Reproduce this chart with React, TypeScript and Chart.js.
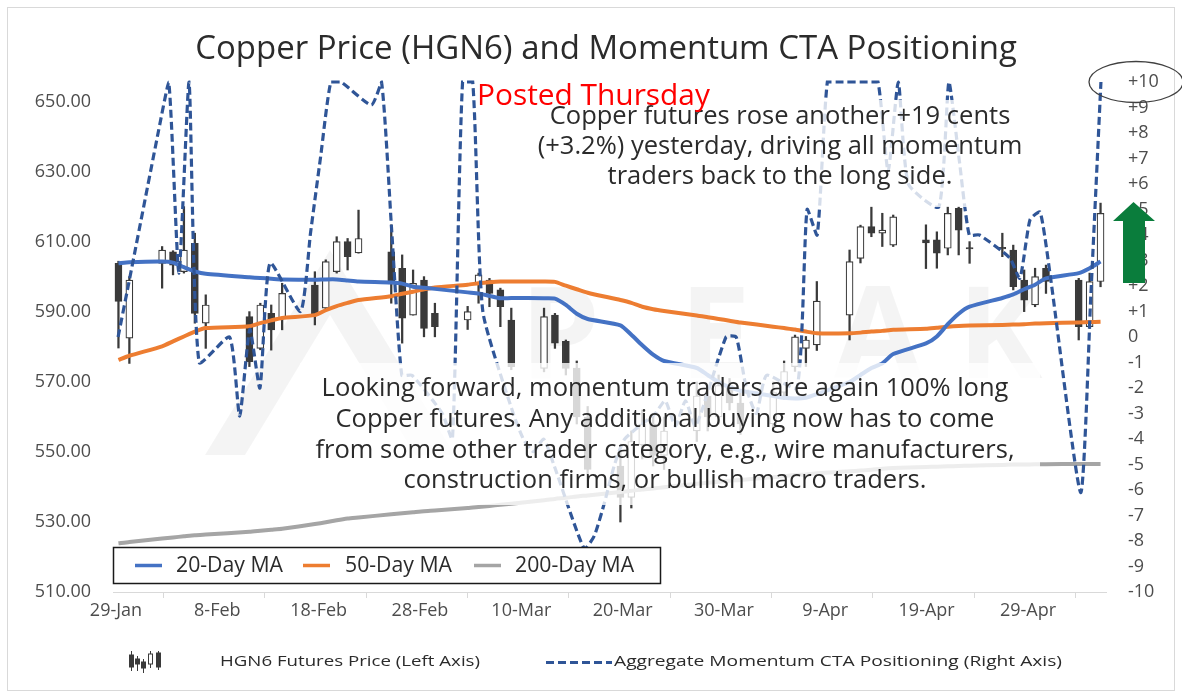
import React, { useEffect, useRef } from 'react';
import { Chart, registerables } from 'chart.js';

Chart.register(...registerables);

// ---------------- DATA ----------------
const YEAR = 2026;
const BASE_DATE = '01-29';

// Candlestick series (HGN6 futures, left axis)
const CANDLE_DATES = [
  '01-29', '01-30',
  '02-02', '02-03', '02-04', '02-05', '02-06',
  '02-10', '02-11', '02-12', '02-13',
  '02-16', '02-17', '02-18', '02-19', '02-20',
  '02-23', '02-24', '02-25', '02-26', '02-27',
  '03-02', '03-03', '03-04', '03-05', '03-06',
  '03-09', '03-10', '03-11', '03-12', '03-13',
  '03-16', '03-17', '03-18', '03-19', '03-20',
  '03-23', '03-24', '03-25', '03-26', '03-27',
  '03-30', '03-31', '04-01', '04-02', '04-03',
  '04-06', '04-07', '04-08', '04-09', '04-10',
  '04-13', '04-14', '04-15', '04-16', '04-17',
  '04-20', '04-21', '04-22', '04-23', '04-24',
  '04-27', '04-28', '04-29',
];
const OPEN = [
  603.9, 582.5,
  603.9, 607.2, 601.5, 609.6, 586.8,
  588.7, 579.6, 589.6, 588.2,
  597.7, 591.1, 601.5, 610.1, 606.9,
  607.2, 602.5, 589.1, 599.1, 589.6,
  587.7, 598.2, 599.1, 596.3, 587.7,
  573.9, 589.1, 581.6, 574.0, 560.0,
  546.0, 537.0, 552.0, 558.0, 549.0,
  556.0, 566.0, 560.0, 569.0, 564.0,
  558.0, 567.0, 574.4, 579.6, 580.6,
  589.1, 605.3, 614.4, 612.5, 609.1,
  610.6, 610.6, 608.2, 619.6, 608.4,
  608.5, 607.7, 599.1, 592.0, 602.5,
  599.1, 585.8, 598.7,
];
const HIGH = [
  604.5, 600.1,
  608.7, 607.5, 620.1, 612.5, 594.9,
  590.1, 592.5, 592.0, 598.2,
  601.5, 604.9, 611.5, 611.0, 619.1,
  614.9, 606.3, 602.0, 600.1, 592.5,
  591.6, 601.1, 599.6, 596.8, 591.1,
  591.1, 589.6, 582.0, 576.0, 563.0,
  550.0, 556.0, 562.0, 561.0, 560.0,
  570.0, 569.0, 572.0, 571.0, 567.0,
  570.0, 576.0, 583.4, 583.0, 598.7,
  607.7, 614.8, 620.1, 618.2, 617.7,
  614.9, 612.9, 620.1, 620.1, 610.1,
  612.5, 609.1, 602.0, 602.5, 603.4,
  599.6, 601.1, 621.1,
];
const LOW = [
  579.7, 575.3,
  596.8, 600.6, 601.1, 586.8, 579.6,
  574.4, 579.2, 579.1, 584.9,
  586.3, 590.6, 601.1, 602.0, 606.8,
  592.5, 581.1, 589.1, 582.9, 582.9,
  585.0, 592.5, 591.5, 585.8, 573.5,
  572.9, 579.6, 572.0, 558.0, 540.0,
  530.0, 534.0, 548.0, 546.0, 545.0,
  553.0, 556.0, 558.0, 562.0, 555.0,
  556.0, 565.0, 573.0, 574.4, 579.0,
  582.0, 604.0, 611.5, 608.7, 608.7,
  602.4, 602.5, 606.3, 606.3, 603.9,
  605.8, 596.3, 590.1, 591.5, 595.3,
  582.0, 585.3, 597.2,
];
const CLOSE = [
  593.0, 599.1,
  607.7, 603.4, 607.7, 589.6, 592.0,
  575.8, 592.0, 584.9, 595.3,
  589.1, 604.4, 610.1, 605.8, 611.0,
  598.0, 588.2, 598.2, 585.3, 585.8,
  590.1, 600.6, 595.3, 591.5, 574.4,
  588.7, 581.1, 573.9, 560.0, 545.0,
  537.0, 553.0, 558.0, 549.0, 556.0,
  566.0, 560.0, 569.0, 564.0, 558.0,
  567.0, 573.0, 582.9, 582.0, 593.1,
  604.4, 614.4, 612.5, 613.4, 617.2,
  609.7, 606.8, 618.2, 613.4, 608.0,
  608.0, 597.2, 593.4, 600.1, 598.7,
  585.8, 598.7, 618.2,
];

// Moving averages (same dates as the candles)
const MA20 = [
  603.9, 604.2,
  604.4, 604.1, 602.8, 601.6, 600.9,
  599.9, 599.7, 599.5, 599.3,
  599.2, 599.3, 599.3, 599.0, 598.7,
  598.4, 598.1, 597.2, 596.9, 596.6,
  595.6, 595.3, 594.6, 593.9, 594.0,
  593.9, 593.8, 592.0, 589.5, 588.0,
  586.2, 583.5, 580.5, 577.8, 576.0,
  574.0, 572.0, 570.0, 568.5, 567.5,
  566.0, 565.5, 565.3, 565.5, 566.5,
  570.0, 572.0, 574.0, 575.3, 578.0,
  581.0, 583.0, 586.5, 589.5, 591.5,
  594.0, 595.0, 596.5, 597.8, 599.6,
  601.1, 602.5, 604.4,
];
const MA50 = [
  576.3, 577.5,
  580.2, 581.6, 583.0, 584.4, 585.4,
  585.9, 586.8, 587.6, 588.3,
  589.1, 590.5, 591.7, 592.6, 593.4,
  594.5, 595.2, 595.8, 596.5, 597.0,
  597.8, 598.2, 598.5, 598.7, 598.7,
  598.7, 598.6, 597.5, 596.5, 595.5,
  593.4, 592.6, 591.5, 590.8, 590.3,
  589.0, 588.5, 588.0, 587.5, 587.0,
  585.8, 585.4, 585.0, 584.4, 583.9,
  583.9, 584.1, 584.4, 584.6, 584.9,
  585.2, 585.5, 585.8, 586.0, 586.1,
  586.3, 586.4, 586.5, 586.7, 586.8,
  587.0, 587.1, 587.2,
];
const MA200 = [
  523.9, 524.3,
  525.3, 525.6, 525.9, 526.2, 526.4,
  527.2, 527.5, 527.8, 528.1,
  529.4, 529.9, 530.5, 531.0, 531.3,
  532.2, 532.5, 532.8, 533.1, 533.3,
  534.0, 534.3, 534.6, 534.9, 535.2,
  536.2, 536.6, 536.9, 537.3, 537.6,
  538.6, 538.9, 539.3, 539.6, 539.9,
  540.9, 541.2, 541.5, 541.8, 542.0,
  542.8, 543.1, 543.4, 543.6, 543.9,
  544.5, 544.7, 544.9, 545.2, 545.4,
  545.7, 545.8, 545.9, 546.0, 546.1,
  546.3, 546.4, 546.4, 546.5, 546.5,
  546.6, 546.6, 546.6,
];

// Aggregate momentum CTA positioning (right axis), plotted on the labelled date axis
const CTA_DATES = [
  '01-29', '01-30',
  '02-02', '02-03', '02-04', '02-05', '02-06',
  '02-09', '02-10', '02-11', '02-12', '02-13',
  '02-16', '02-17', '02-18', '02-19', '02-20',
  '02-23', '02-24', '02-25', '02-26', '02-27',
  '03-02', '03-03', '03-04', '03-05', '03-06',
  '03-09', '03-10', '03-11', '03-12', '03-13',
  '03-16', '03-17', '03-18', '03-19', '03-20',
  '03-23', '03-24', '03-25', '03-26', '03-27',
  '03-30', '03-31', '04-01', '04-02', '04-03',
  '04-06', '04-07', '04-08', '04-09', '04-10',
  '04-13', '04-14', '04-15', '04-16', '04-17',
  '04-20', '04-21', '04-22', '04-23', '04-24',
  '04-27', '04-28', '04-29', '04-30', '05-01',
  '05-04', '05-05', '05-06',
];
const CTA = [
  0, 2.0,
  8.1, 10, 2.5, 10, -1.0,
  0, -3.1, 0.3, -2.0, 2.9,
  1.0, 4.1, 7.1, 10, 10,
  9.1, 10, 4.2, -1.5, -1.5,
  -3.0, -4.0, 10, 10, 1.0,
  -3.0, -4.0, -4.5, -4.0, -5.0,
  -8.3, -7.8, -6.5, -5.0, -4.0,
  -3.0, -2.5, -3.5, -2.5, -3.5,
  0, 0, -2.0, -3.0, -1.5,
  -2.0, 5.0, 4.0, 10, 10,
  10, 10, 6.5, 10, 6.0,
  5.1, 10, 7.0, 4.0, 4.0,
  3.1, 2.3, 4.6, 4.9, 2.4,
  -6.1, 1.6, 10,
];

const X_TICK_DATES = ['01-29', '02-08', '02-18', '02-28', '03-10', '03-20', '03-30', '04-09', '04-19', '04-29'];
const X_TICK_LABELS = ['29-Jan', '8-Feb', '18-Feb', '28-Feb', '10-Mar', '20-Mar', '30-Mar', '9-Apr', '19-Apr', '29-Apr'];
const LEFT_TICKS = [510, 530, 550, 570, 590, 610, 630, 650];
const RIGHT_TICKS = [-10, -9, -8, -7, -6, -5, -4, -3, -2, -1, 0, 1, 2, 3, 4, 5, 6, 7, 8, 9, 10];

const TITLE = 'Copper Price (HGN6) and Momentum CTA Positioning';
const POSTED = 'Posted Thursday';
const WATERMARK = ['P', 'E', 'A', 'K'];
const NOTE_TOP = [
  'Copper futures rose another +19 cents',
  '(+3.2%) yesterday, driving all momentum',
  'traders back to the long side.',
];
const NOTE_BOTTOM = [
  'Looking forward, momentum traders are again 100% long',
  'Copper futures. Any additional buying now has to come',
  'from some other trader category, e.g., wire manufacturers,',
  'construction firms, or bullish macro traders.',
];
const MA_LEGEND = ['20-Day MA', '50-Day MA', '200-Day MA'];
const BOTTOM_LEGEND = ['HGN6 Futures Price (Left Axis)', 'Aggregate Momentum CTA Positioning (Right Axis)'];

// ---------------- HELPERS ----------------
const FONT = "'Open Sans', 'DejaVu Sans', sans-serif";
const C_BLUE = '#4472C4';
const C_ORANGE = '#ED7D31';
const C_GRAY = '#A5A5A5';
const C_DASH = '#2F5597';
const C_CANDLE = '#3a3a3a';
const C_TEXT = '#2b2b2b';
const C_AXIS = '#4d4d4d';

function dayOffset(md: string): number {
  const [m, d] = md.split('-').map(Number);
  const [bm, bd] = BASE_DATE.split('-').map(Number);
  return Math.round((Date.UTC(YEAR, m - 1, d) - Date.UTC(YEAR, bm - 1, bd)) / 86400000);
}

function fitSize(ctx: CanvasRenderingContext2D, text: string, width: number, weight = '') {
  ctx.font = `${weight} 100px ${FONT}`;
  return (100 * width) / ctx.measureText(text).width;
}

const decorPlugin = {
  id: 'decor',
  beforeDatasetsDraw(chart: any) {
    const ctx: CanvasRenderingContext2D = chart.ctx;
    ctx.save();
    // faint watermark
    ctx.fillStyle = 'rgba(0,0,0,0.045)';
    ctx.textAlign = 'center';
    ctx.textBaseline = 'alphabetic';
    ctx.font = `bold 128px ${FONT}`;
    const xs = [560, 715, 878, 1000];
    WATERMARK.forEach((l, i) => ctx.fillText(l, xs[i], 378));
    // faint mountain logo
    ctx.beginPath();
    ctx.moveTo(205, 455);
    ctx.lineTo(330, 250);
    ctx.lineTo(455, 455);
    ctx.lineTo(415, 455);
    ctx.lineTo(330, 315);
    ctx.lineTo(245, 455);
    ctx.closePath();
    ctx.fill();
    ctx.restore();
  },
  afterDatasetsDraw(chart: any) {
    const ctx: CanvasRenderingContext2D = chart.ctx;
    ctx.save();
    // translucent text boxes
    ctx.fillStyle = 'rgba(255,255,255,0.8)';
    ctx.fillRect(540, 100, 495, 107);
    ctx.fillRect(300, 363, 740, 142);

    ctx.fillStyle = C_TEXT;
    ctx.textAlign = 'center';
    ctx.textBaseline = 'middle';
    let s = fitSize(ctx, NOTE_TOP[0], 461);
    ctx.font = `${s}px ${FONT}`;
    NOTE_TOP.forEach((t, i) => ctx.fillText(t, 780, 117 + i * 30));
    s = fitSize(ctx, NOTE_BOTTOM[0], 687);
    ctx.font = `${s}px ${FONT}`;
    NOTE_BOTTOM.forEach((t, i) => ctx.fillText(t, 665, 389 + i * 30.7));

    // moving-average legend box
    ctx.fillStyle = '#ffffff';
    ctx.fillRect(113, 547, 547, 36);
    ctx.strokeStyle = '#1a1a1a';
    ctx.lineWidth = 1.5;
    ctx.strokeRect(113.5, 547.5, 547, 36);
    const items = [
      { c: C_BLUE, x: 135, t: 176 },
      { c: C_ORANGE, x: 303, t: 345 },
      { c: C_GRAY, x: 474, t: 515 },
    ];
    s = fitSize(ctx, MA_LEGEND[0], 107);
    ctx.font = `${s}px ${FONT}`;
    ctx.textAlign = 'left';
    items.forEach((it, i) => {
      ctx.strokeStyle = it.c;
      ctx.lineWidth = 3.5;
      ctx.beginPath();
      ctx.moveTo(it.x, 565.5);
      ctx.lineTo(it.x + 27, 565.5);
      ctx.stroke();
      ctx.fillStyle = C_TEXT;
      ctx.fillText(MA_LEGEND[i], it.t, 566);
    });
    ctx.restore();
  },
  afterDraw(chart: any) {
    const ctx: CanvasRenderingContext2D = chart.ctx;
    ctx.save();
    // frame
    ctx.strokeStyle = '#d9d9d9';
    ctx.lineWidth = 1;
    ctx.strokeRect(7.5, 7.5, 1167, 683);

    // title
    ctx.textAlign = 'center';
    ctx.textBaseline = 'middle';
    ctx.fillStyle = C_TEXT;
    let s = fitSize(ctx, TITLE, 822);
    ctx.font = `${s}px ${FONT}`;
    ctx.fillText(TITLE, 606, 50);

    // posted
    ctx.textAlign = 'left';
    ctx.fillStyle = '#FF0000';
    s = fitSize(ctx, POSTED, 233);
    ctx.font = `${s}px ${FONT}`;
    ctx.fillText(POSTED, 477, 96);

    // green arrow
    ctx.fillStyle = '#0A7D3C';
    ctx.beginPath();
    ctx.moveTo(1133.5, 202);
    ctx.lineTo(1155, 221);
    ctx.lineTo(1145, 221);
    ctx.lineTo(1145, 283);
    ctx.lineTo(1123, 283);
    ctx.lineTo(1123, 221);
    ctx.lineTo(1113, 221);
    ctx.closePath();
    ctx.fill();

    // ellipse around +10
    ctx.strokeStyle = '#404040';
    ctx.lineWidth = 1.3;
    ctx.beginPath();
    ctx.ellipse(1136, 82, 47, 20.5, 0, 0, Math.PI * 2);
    ctx.stroke();

    // bottom legend: candle icon
    const mini = [
      { x: 131, h: 651, l: 671, o: 655, c: 667, up: false },
      { x: 137, h: 656, l: 671, o: 659, c: 664, up: false },
      { x: 143, h: 659, l: 673, o: 662, c: 668, up: false },
      { x: 150, h: 651, l: 668, o: 664, c: 654, up: true },
      { x: 158, h: 651, l: 670, o: 653, c: 667, up: false },
    ];
    mini.forEach((m) => {
      ctx.strokeStyle = C_CANDLE;
      ctx.lineWidth = 1;
      ctx.beginPath();
      ctx.moveTo(m.x + 0.5, m.h);
      ctx.lineTo(m.x + 0.5, m.l);
      ctx.stroke();
      const top = Math.min(m.o, m.c);
      const hgt = Math.abs(m.o - m.c);
      ctx.fillStyle = m.up ? '#ffffff' : C_CANDLE;
      ctx.fillRect(m.x - 1.5, top, 4, hgt);
      ctx.strokeRect(m.x - 1.5, top, 4, hgt);
    });

    // bottom legend texts (condensed)
    ctx.fillStyle = C_TEXT;
    ctx.textBaseline = 'middle';
    ctx.textAlign = 'left';
    ctx.font = `15px ${FONT}`;
    const drawCondensed = (t: string, x: number, w: number) => {
      const mw = ctx.measureText(t).width;
      ctx.save();
      ctx.translate(x, 662);
      ctx.scale(w / mw, 1);
      ctx.fillText(t, 0, 0);
      ctx.restore();
    };
    drawCondensed(BOTTOM_LEGEND[0], 220, 260);
    ctx.strokeStyle = C_DASH;
    ctx.lineWidth = 3;
    ctx.setLineDash([8, 4]);
    ctx.beginPath();
    ctx.moveTo(546, 662.5);
    ctx.lineTo(612, 662.5);
    ctx.stroke();
    ctx.setLineDash([]);
    drawCondensed(BOTTOM_LEGEND[1], 614, 448);
    ctx.restore();
  },
};

export default function App() {
  const ref = useRef<HTMLCanvasElement | null>(null);

  useEffect(() => {
    document.body.style.margin = '0';
    const canvas = ref.current;
    if (!canvas) return;

    const candleX = CANDLE_DATES.map(dayOffset);
    const ctaX = CTA_DATES.map(dayOffset);
    const up = (i: number) => CLOSE[i] >= OPEN[i];
    const tickFont = { family: FONT, size: 18 };

    const chart = new Chart(canvas, {
      type: 'bar',
      data: {
        datasets: [
          {
            type: 'bar',
            label: 'wick',
            xAxisID: 'xc',
            yAxisID: 'y',
            data: candleX.map((x, i) => ({ x, y: [LOW[i], HIGH[i]] })) as any,
            backgroundColor: C_CANDLE,
            borderWidth: 0,
            barThickness: 1.6,
            grouped: false,
            order: 6,
          },
          {
            type: 'bar',
            label: 'body',
            xAxisID: 'xc',
            yAxisID: 'y',
            data: candleX.map((x, i) => ({ x, y: [OPEN[i], CLOSE[i]] })) as any,
            backgroundColor: (c: any) => (up(c.dataIndex) ? '#ffffff' : C_CANDLE),
            borderColor: C_CANDLE,
            borderWidth: 1.2,
            borderSkipped: false,
            barThickness: 7,
            minBarLength: 1.5,
            grouped: false,
            order: 5,
          },
          {
            type: 'line',
            label: MA_LEGEND[2],
            xAxisID: 'xc',
            yAxisID: 'y',
            data: candleX.map((x, i) => ({ x, y: MA200[i] })),
            borderColor: C_GRAY,
            borderWidth: 4,
            pointRadius: 0,
            tension: 0.2,
            order: 4,
          },
          {
            type: 'line',
            label: MA_LEGEND[1],
            xAxisID: 'xc',
            yAxisID: 'y',
            data: candleX.map((x, i) => ({ x, y: MA50[i] })),
            borderColor: C_ORANGE,
            borderWidth: 4,
            pointRadius: 0,
            tension: 0.2,
            order: 3,
          },
          {
            type: 'line',
            label: MA_LEGEND[0],
            xAxisID: 'xc',
            yAxisID: 'y',
            data: candleX.map((x, i) => ({ x, y: MA20[i] })),
            borderColor: C_BLUE,
            borderWidth: 4,
            pointRadius: 0,
            tension: 0.2,
            order: 2,
          },
          {
            type: 'line',
            label: 'CTA',
            xAxisID: 'x',
            yAxisID: 'y2',
            data: ctaX.map((x, i) => ({ x, y: CTA[i] })),
            borderColor: C_DASH,
            borderWidth: 3.2,
            borderDash: [8, 4],
            pointRadius: 0,
            tension: 0.18,
            clip: { left: 0, right: 0, top: 2, bottom: 0 } as any,
            order: 1,
          },
        ] as any,
      },
      options: {
        responsive: false,
        devicePixelRatio: 1,
        animation: false,
        events: [],
        layout: { padding: { top: 82, bottom: 73, left: 0, right: 0 } },
        plugins: {
          legend: { display: false },
          title: { display: false },
          tooltip: { enabled: false },
        },
        scales: {
          x: {
            type: 'linear',
            position: 'bottom',
            min: -0.5,
            max: ctaX[ctaX.length - 1] + 0.5,
            offset: false,
            afterBuildTicks: (scale: any) => {
              scale.ticks = X_TICK_DATES.map((d) => ({ value: dayOffset(d) - 0.5 }));
            },
            afterFit: (scale: any) => {
              scale.height = 30;
            },
            ticks: {
              autoSkip: false,
              maxRotation: 0,
              minRotation: 0,
              padding: 2,
              labelOffset: 3,
              color: C_AXIS,
              font: tickFont,
              callback: (_v: any, i: number) => X_TICK_LABELS[i],
            },
            grid: { drawOnChartArea: false, drawTicks: true, tickLength: 6, color: '#d9d9d9' },
            border: { display: true, color: '#d9d9d9', width: 1 },
          },
          xc: {
            type: 'linear',
            axis: 'x',
            display: false,
            offset: false,
            min: -0.5,
            max: candleX[candleX.length - 1] + 0.5,
          },
          y: {
            type: 'linear',
            position: 'left',
            min: 510,
            max: 655.7,
            afterBuildTicks: (scale: any) => {
              scale.ticks = LEFT_TICKS.map((v) => ({ value: v }));
            },
            afterFit: (scale: any) => {
              scale.width = 113;
            },
            ticks: {
              padding: 22,
              color: C_AXIS,
              font: tickFont,
              callback: (v: any) => Number(v).toFixed(2),
            },
            grid: { display: false, drawTicks: false },
            border: { display: false },
          },
          y2: {
            type: 'linear',
            position: 'right',
            min: -10,
            max: 10,
            afterBuildTicks: (scale: any) => {
              scale.ticks = RIGHT_TICKS.map((v) => ({ value: v }));
            },
            afterFit: (scale: any) => {
              scale.width = 76;
            },
            ticks: {
              padding: 22,
              color: C_AXIS,
              font: tickFont,
              autoSkip: false,
              callback: (v: any) => (Number(v) > 0 ? '+' + v : String(v)),
            },
            grid: { display: false, drawTicks: false },
            border: { display: false },
          },
        } as any,
      },
      plugins: [decorPlugin],
    });

    return () => chart.destroy();
  }, []);

  return (
    <div style={{ position: 'absolute', left: 0, top: 0, width: 1182, height: 695, background: '#fff' }}>
      <canvas ref={ref} width={1182} height={695} style={{ width: 1182, height: 695, display: 'block' }} />
    </div>
  );
}
